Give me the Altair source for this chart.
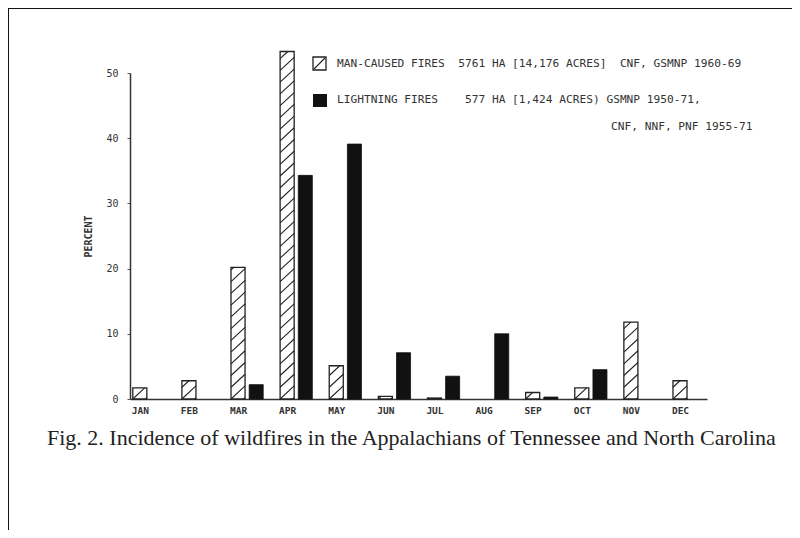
import altair as alt
import pandas as pd

months = ["JAN", "FEB", "MAR", "APR", "MAY", "JUN", "JUL", "AUG", "SEP", "OCT", "NOV", "DEC"]
man_caused = [1.7, 2.8, 20.2, 53.3, 5.1, 0.4, 0.15, 0.0, 1.0, 1.7, 11.8, 2.8]
lightning = [0.0, 0.0, 2.2, 34.3, 39.1, 7.1, 3.5, 10.0, 0.3, 4.5, 0.0, 0.0]
y_ticks = [0, 10, 20, 30, 40, 50]

NB = "\u00a0"
legend_lines = [
    "MAN-CAUSED FIRES" + NB * 2 + "5761 HA [14,176 ACRES]" + NB * 2 + "CNF, GSMNP 1960-69",
    "LIGHTNING FIRES" + NB * 4 + "577 HA [1,424 ACRES) GSMNP 1950-71,",
    "CNF, NNF, PNF 1955-71",
]
caption = "Fig. 2. Incidence of wildfires in the Appalachians of Tennessee and North Carolina"
y_title = "PERCENT"

man_df = pd.DataFrame({"idx": list(range(12)), "month": months, "value": man_caused})
light_df = pd.DataFrame({"idx": list(range(12)), "month": months, "value": lightning})

INK = "#222222"
MONO = "DejaVu Sans Mono"
HALF = 0.143      # half bar width in month units
LOFF = 0.37       # lightning bar offset in month units
STEP = 1.8        # hatch spacing (data units)
RISE = 2.0        # hatch rise across bar (data units)

xscale = alt.Scale(domain=[-0.2, 11.55], nice=False, zero=False)
yscale = alt.Scale(domain=[0, 50], nice=False)

label_expr = "[" + ",".join("'%s'" % m for m in months) + "][datum.value]"

x_axis = alt.Axis(values=list(range(12)), labelExpr=label_expr, title=None, grid=False,
                  ticks=False, domainColor="#333", domainWidth=1.5, labelFont=MONO,
                  labelFontSize=9.5, labelFontWeight="bold", labelColor="#333", labelPadding=6)
y_axis = alt.Axis(values=y_ticks, title=y_title, grid=False, tickSize=3, tickColor="#555",
                  domainColor="#333", domainWidth=1.5, labelFont=MONO, labelFontSize=10,
                  labelColor="#333", labelPadding=9, titleFont=MONO, titleFontSize=10,
                  titleFontWeight="bold", titleColor="#333", titlePadding=12)

base_man = alt.Chart(man_df).transform_filter("datum.value > 0").transform_calculate(
    x0=f"datum.idx - {HALF}", x1=f"datum.idx + {HALF}", zero="0")

man_bars = base_man.mark_rect(fill="white", stroke=INK, strokeWidth=1.3).encode(
    x=alt.X("x0:Q", scale=xscale, axis=x_axis),
    x2="x1:Q",
    y=alt.Y("value:Q", scale=yscale, axis=y_axis),
    y2="zero:Q",
)

hatch = base_man.transform_calculate(
    seq=f"sequence(-{STEP}, datum.value, {STEP})"
).transform_flatten(["seq"]).transform_calculate(
    ys="max(datum.seq, 0)",
    ye=f"min(datum.seq + {RISE}, datum.value)",
).transform_filter("datum.ye > datum.ys").transform_calculate(
    xs=f"datum.x0 + {2*HALF} * (datum.ys - datum.seq) / {RISE}",
    xe=f"datum.x0 + {2*HALF} * (datum.ye - datum.seq) / {RISE}",
).mark_rule(color=INK, strokeWidth=1.1).encode(
    x=alt.X("xs:Q", scale=xscale), x2="xe:Q",
    y=alt.Y("ys:Q", scale=yscale), y2="ye:Q",
)

light_bars = alt.Chart(light_df).transform_filter("datum.value > 0").transform_calculate(
    x0=f"datum.idx + {LOFF} - {HALF}", x1=f"datum.idx + {LOFF} + {HALF}", zero="0"
).mark_rect(fill="#111", stroke="#111", strokeWidth=0.8).encode(
    x=alt.X("x0:Q", scale=xscale), x2="x1:Q",
    y=alt.Y("value:Q", scale=yscale), y2="zero:Q",
)

# legend
sw1 = alt.Chart(man_df.head(1)).mark_rect(fill="white", stroke=INK, strokeWidth=1.3).encode(
    x=alt.value(183), x2=alt.value(196), y=alt.value(-16), y2=alt.value(-3))
sw1d = alt.Chart(man_df.head(1)).mark_rule(color=INK, strokeWidth=1.1).encode(
    x=alt.value(184), x2=alt.value(195), y=alt.value(-4), y2=alt.value(-15))
sw2 = alt.Chart(man_df.head(1)).mark_rect(fill="#111").encode(
    x=alt.value(183), x2=alt.value(197), y=alt.value(21), y2=alt.value(34))

leg_df = pd.DataFrame({"t": legend_lines, "k": [0, 1, 2]})
def leg_text(i, x, y):
    return alt.Chart(leg_df).transform_filter(f"datum.k == {i}").mark_text(
        font=MONO, fontSize=11.2, color="#333", align="left", baseline="middle"
    ).encode(text="t:N", x=alt.value(x), y=alt.value(y))

t1 = leg_text(0, 207, -9)
t2 = leg_text(1, 207, 27)
t3 = leg_text(2, 481, 54)

cap = alt.Chart(pd.DataFrame({"t": [caption]})).mark_text(
    font="Liberation Serif", fontSize=22, color="#222", align="left", baseline="middle"
).encode(text="t:N", x=alt.value(-83), y=alt.value(365))

# scan frame (top and left edges)
frame_top = alt.Chart(man_df.head(1)).mark_rule(color="#111", strokeWidth=2).encode(
    x=alt.value(-122), x2=alt.value(670), y=alt.value(-65))
frame_left = alt.Chart(man_df.head(1)).mark_rule(color="#111", strokeWidth=2).encode(
    x=alt.value(-122), y=alt.value(-65), y2=alt.value(470))

chart = alt.layer(
    man_bars, hatch, light_bars, sw1, sw1d, sw2, t1, t2, t3, cap, frame_top, frame_left
).properties(
    width=577, height=326,
    autosize=alt.AutoSizeParams(type="none"),
    padding={"left": 122, "top": 65, "right": 85, "bottom": 131},
    background="white",
).configure_view(stroke=None)

chart.save("out.html", embed_options={"renderer": "svg", "actions": False})
